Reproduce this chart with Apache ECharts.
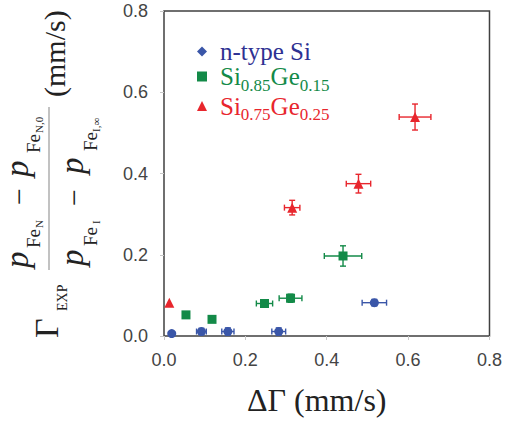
<!DOCTYPE html>
<html>
<head>
<meta charset="utf-8">
<title>Gamma EXP vs Delta Gamma</title>
<script src="https://cdn.jsdelivr.net/npm/echarts@6/dist/echarts.min.js"></script>
<style>
  html, body { margin: 0; padding: 0; background: #fff; }
  #chart { width: 505px; height: 428px; }
</style>
</head>
<body>
<div id="chart"></div>
<script>
// axis ticks
var tickValues = [0, 0.2, 0.4, 0.6, 0.8];
var tickLabels = ['0.0', '0.2', '0.4', '0.6', '0.8'];

// series names
var seriesNames = ['n-type Si', 'Si0.85Ge0.15', 'Si0.75Ge0.25'];

// n-type Si
var siX = [0.019, 0.092, 0.157, 0.282, 0.517];
var siY = [0.006, 0.011, 0.011, 0.011, 0.082];
var siXerr = [0, 0.012, 0.015, 0.017, 0.030];
var siYerr = [0, 0.008, 0.009, 0.009, 0.008];

// Si0.85Ge0.15
var ge15X = [0.054, 0.118, 0.247, 0.311, 0.440];
var ge15Y = [0.052, 0.041, 0.080, 0.093, 0.197];
var ge15Xerr = [0, 0, 0.020, 0.028, 0.046];
var ge15Yerr = [0, 0, 0.008, 0.010, 0.025];

// Si0.75Ge0.25
var ge25X = [0.013, 0.315, 0.478, 0.617];
var ge25Y = [0.082, 0.316, 0.375, 0.539];
var ge25Xerr = [0, 0.019, 0.030, 0.039];
var ge25Yerr = [0, 0.018, 0.023, 0.032];

var SERIF = '"Liberation Serif","Times New Roman",serif';
var SANS = '"Liberation Sans",Arial,sans-serif';

var myChart = echarts.init(document.getElementById('chart'), null, { renderer: 'svg' });

function pack(xs, ys, exs, eys) {
    return xs.map(function (x, i) { return [x, ys[i], exs[i], eys[i]]; });
}

// error bars with small caps
function errBars(color) {
    return function (params, api) {
        var x = api.value(0), y = api.value(1), ex = api.value(2), ey = api.value(3);
        var cap = 3;
        var kids = [];
        var st = { stroke: color, lineWidth: 1.4 };
        if (ex > 0) {
            var l = api.coord([x - ex, y]), r = api.coord([x + ex, y]);
            kids.push({ type: 'line', shape: { x1: l[0], y1: l[1], x2: r[0], y2: r[1] }, style: st });
            kids.push({ type: 'line', shape: { x1: l[0], y1: l[1] - cap, x2: l[0], y2: l[1] + cap }, style: st });
            kids.push({ type: 'line', shape: { x1: r[0], y1: r[1] - cap, x2: r[0], y2: r[1] + cap }, style: st });
        }
        if (ey > 0) {
            var b = api.coord([x, y - ey]), t = api.coord([x, y + ey]);
            kids.push({ type: 'line', shape: { x1: b[0], y1: b[1], x2: t[0], y2: t[1] }, style: st });
            kids.push({ type: 'line', shape: { x1: b[0] - cap, y1: b[1], x2: b[0] + cap, y2: b[1] }, style: st });
            kids.push({ type: 'line', shape: { x1: t[0] - cap, y1: t[1], x2: t[0] + cap, y2: t[1] }, style: st });
        }
        return { type: 'group', children: kids };
    };
}

// y axis title pieces, laid out along the rotated baseline
function piece(text, startY, baseX, size, italic) {
    return {
        type: 'text',
        x: -startY,
        y: baseX - 0.32 * size,
        style: {
            text: text, fontSize: size, fontFamily: SERIF,
            fontStyle: italic ? 'italic' : 'normal',
            fill: '#222', align: 'left', verticalAlign: 'middle'
        }
    };
}

var yTitle = [
    piece('Γ', 338, 57, 34),
    piece('EXP', 311, 67, 14),
    // numerator
    piece('p', 268, 28, 33, true),
    piece('Fe', 248, 40, 19),
    piece('N', 228, 43, 11),
    piece('−', 205, 28, 30),
    piece('p', 177, 28, 33, true),
    piece('Fe', 153, 40, 19),
    piece('N,0', 133, 43, 11),
    // denominator
    piece('p', 266, 83, 33, true),
    piece('Fe', 246, 97, 19),
    piece('I', 224, 100, 11),
    piece('−', 206, 83, 30),
    piece('p', 174, 83, 33, true),
    piece('Fe', 151, 97, 19),
    piece('I,∞', 132, 100, 11),
    piece('(mm/s)', 97, 64, 30),
    {
        type: 'line',
        shape: { x1: -270, y1: 49, x2: -107, y2: 49 },
        style: { stroke: '#999', lineWidth: 1.2 }
    }
];

var colors = ['#3a56a8', '#138a48', '#e8262d'];
var textColors = ['#2e3192', '#138a48', '#e8262d'];

var axisCommon = {
    type: 'value',
    min: tickValues[0],
    max: tickValues[tickValues.length - 1],
    interval: tickValues[1] - tickValues[0],
    axisLine: { show: false },
    splitLine: { show: false },
    axisTick: { show: true, length: 4, lineStyle: { color: '#c8c8c8' } },
    axisLabel: {
        fontSize: 18, color: '#444', fontFamily: SANS, margin: 15,
        formatter: function (v) { return tickLabels[Math.round(v / 0.2)]; }
    }
};

var option = {
    animation: false,
    grid: {
        left: 164, top: 11, right: 12, bottom: 92,
        show: true, borderColor: '#404040', borderWidth: 1.5, backgroundColor: '#fff'
    },
    xAxis: echarts.util.merge({
        name: 'ΔΓ (mm/s)',
        nameLocation: 'middle',
        nameGap: 48,
        nameTextStyle: { fontFamily: SERIF, fontSize: 32, color: '#222', padding: [0, 20, 0, 0] }
    }, axisCommon),
    yAxis: echarts.util.merge({
        axisLabel: { margin: 16 }
    }, axisCommon),
    legend: {
        orient: 'vertical',
        left: 192, top: 34,
        itemWidth: 10, itemHeight: 10, itemGap: 0,
        selectedMode: false,
        data: [
            { name: seriesNames[0], icon: 'diamond', textStyle: { color: textColors[0] } },
            { name: seriesNames[1], icon: 'rect', textStyle: { color: textColors[1] } },
            { name: seriesNames[2], icon: 'triangle', textStyle: { color: textColors[2] } }
        ],
        formatter: function (name) {
            return '{m|' + name.replace(/(\d\.\d+)/g, '}{s|$1}{m|') + '}';
        },
        textStyle: {
            fontFamily: SERIF,
            padding: [0, 0, 0, 8],
            rich: {
                m: { fontFamily: SERIF, fontSize: 25, lineHeight: 34, verticalAlign: 'middle' },
                s: { fontFamily: SERIF, fontSize: 17, lineHeight: 17, verticalAlign: 'bottom' }
            }
        }
    },
    graphic: [{ type: 'group', x: 0, y: 0, rotation: Math.PI / 2, children: yTitle }],
    series: [
        { name: 'err0', type: 'custom', renderItem: errBars(colors[0]), encode: { x: 0, y: 1 }, data: pack(siX, siY, siXerr, siYerr), silent: true, z: 2 },
        { name: 'err1', type: 'custom', renderItem: errBars(colors[1]), encode: { x: 0, y: 1 }, data: pack(ge15X, ge15Y, ge15Xerr, ge15Yerr), silent: true, z: 2 },
        { name: 'err2', type: 'custom', renderItem: errBars(colors[2]), encode: { x: 0, y: 1 }, data: pack(ge25X, ge25Y, ge25Xerr, ge25Yerr), silent: true, z: 2 },
        { name: seriesNames[0], type: 'scatter', symbol: 'circle', symbolSize: 9, itemStyle: { color: colors[0], opacity: 1 }, data: pack(siX, siY, siXerr, siYerr), z: 3 },
        { name: seriesNames[1], type: 'scatter', symbol: 'rect', symbolSize: 9, itemStyle: { color: colors[1], opacity: 1 }, data: pack(ge15X, ge15Y, ge15Xerr, ge15Yerr), z: 3 },
        { name: seriesNames[2], type: 'scatter', symbol: 'triangle', symbolSize: 10, itemStyle: { color: colors[2], opacity: 1 }, data: pack(ge25X, ge25Y, ge25Xerr, ge25Yerr), z: 3 }
    ]
};

myChart.setOption(option);
</script>
</body>
</html>
